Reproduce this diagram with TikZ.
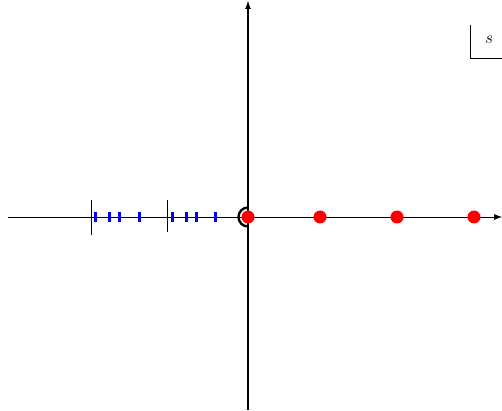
\documentclass[tikz,border=0pt]{standalone}
\usetikzlibrary{arrows.meta}
\begin{document}
\begin{tikzpicture}[x=1pt,y=-1pt,
  pole/.style={circle,fill=red,inner sep=0pt,minimum size=13pt},
  zero/.style={fill=blue,inner sep=0pt,minimum width=3pt,minimum height=10pt},
  brk/.style={line width=0.8pt}]
\useasboundingbox (0,0) rectangle (502,411);
\coordinate (xl) at (8,217);
\coordinate (xr) at (502,217);
\coordinate (yb) at (248,410);
\coordinate (yt) at (248,0);
\draw[line width=0.6pt,-{Latex[length=8pt,width=6pt]}] (xl) -- (xr);
\draw[line width=2.6pt,-{Latex[length=9pt,width=6pt]}] (yb) -- (yt);
\draw[line width=2.4pt] (248,207.5) arc[start angle=270,end angle=90,radius=9.5];
\foreach \n/\x in {a/95,b/109.5,c/119.5,d/139,e/172.5,f/186.5,g/196,h/215.5}
  \node[zero] (z\n) at (\x,217.5) {};
\coordinate (b1t) at (91,200); \coordinate (b1b) at (91,235);
\coordinate (b2t) at (167,200); \coordinate (b2b) at (167,232);
\draw[brk] (b1t) -- (b1b);
\draw[brk] (b2t) -- (b2b);
\foreach \n/\x in {a/248,b/320,c/397,d/474}
  \node[pole] (p\n) at (\x,217) {};
\coordinate (s1) at (470,25); \coordinate (s2) at (470,58); \coordinate (s3) at (502,58);
\draw[line width=0.6pt] (s1) -- (s2) -- (s3);
\node[font=\fontsize{17}{20}\selectfont] (s) at (489,40) {$s$};
\end{tikzpicture}
\end{document}
